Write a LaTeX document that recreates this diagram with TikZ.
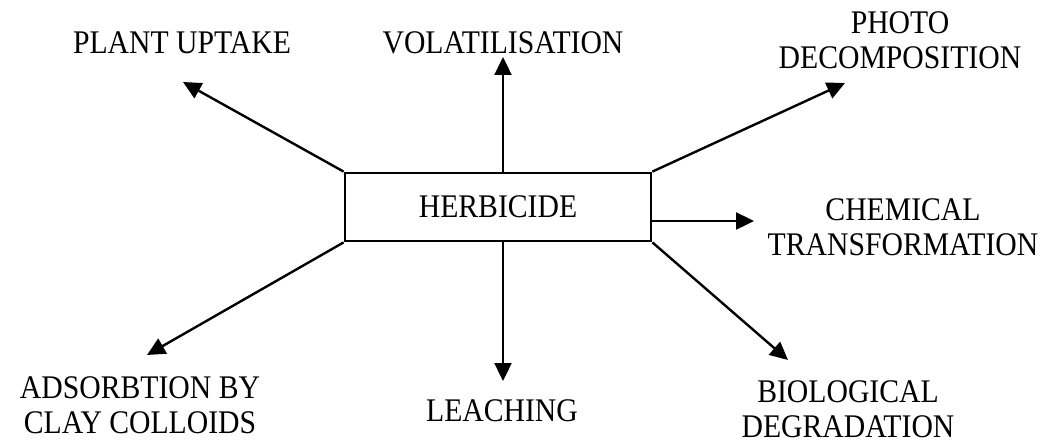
\documentclass[tikz,border=0pt]{standalone}
\usepackage{fontspec}
\setmainfont{Liberation Serif}[FakeStretch=0.9]
\usetikzlibrary{arrows.meta}
\begin{document}
\begin{tikzpicture}[x=1pt,y=-1pt,
  lbl/.style={inner sep=0pt,align=center,font=\fontsize{33}{35}\selectfont},
  arr/.style={line width=2.4pt,-{Triangle[length=18pt,width=17pt]}},
  hbox/.style={draw,line width=2.8pt,minimum width=306pt,minimum height=68pt,inner sep=0pt,font=\fontsize{33}{35}\selectfont}]
\useasboundingbox (0,0) rectangle (1045,444);
\node[hbox] (box) at (498,207) {HERBICIDE};
% labels
\node[lbl] (pu) at (182,43) {PLANT UPTAKE};
\node[lbl] (vo) at (503,43) {VOLATILISATION};
\node[lbl] (ph) at (900,40) {PHOTO\\DECOMPOSITION};
\node[lbl] (ch) at (903,227) {CHEMICAL\\TRANSFORMATION};
\node[lbl] (ad) at (140,405) {ADSORBTION BY\\CLAY COLLOIDS};
\node[lbl] (le) at (502,411) {LEACHING};
\node[lbl] (bi) at (848,409) {BIOLOGICAL\\DEGRADATION};
% arrow tips
\coordinate (tpu) at (183,82);
\coordinate (tvo) at (503,57);
\coordinate (tph) at (845,83);
\coordinate (tch) at (754,221);
\coordinate (tad) at (147,355);
\coordinate (tle) at (503,381);
\coordinate (tbi) at (788,360);
% arrows
\draw[arr] (box.north west) -- (tpu);
\draw[arr] (box.north -| tvo) -- (tvo);
\draw[arr] (box.north east) -- (tph);
\draw[arr] (box.east |- tch) -- (tch);
\draw[arr] (box.south west) -- (tad);
\draw[arr] (box.south -| tle) -- (tle);
\draw[arr] (box.south east) -- (tbi);
\end{tikzpicture}
\end{document}
